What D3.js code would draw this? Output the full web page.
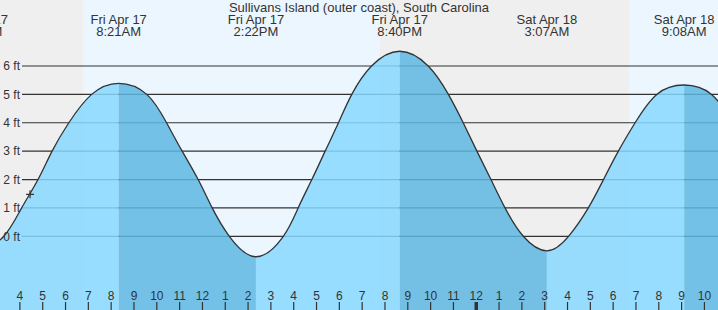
<!DOCTYPE html>
<html>
<head>
<meta charset="utf-8">
<script src="https://cdn.jsdelivr.net/npm/d3@7"></script>
<style>
  body { margin: 0; background: #fff; }
  svg { display: block; font-family: "Liberation Sans", Arial, sans-serif; }
</style>
</head>
<body>
<div id="vis"></div>
<script>
// Set up dimensions
let width = 718,
    height = 310;

let parse = d3.timeParse("%Y-%m-%d %H:%M");

// Data
const title = "Sullivans Island (outer coast), South Carolina";

// tide curve: high/low points plus where the curve crosses each ft line
const curveTimes = [
  "2020-04-17 02:16", "2020-04-17 03:19", "2020-04-17 04:06", "2020-04-17 04:49",
  "2020-04-17 05:26", "2020-04-17 06:10", "2020-04-17 07:10", "2020-04-17 08:21",
  "2020-04-17 09:35", "2020-04-17 10:27", "2020-04-17 11:08", "2020-04-17 11:50",
  "2020-04-17 12:27", "2020-04-17 13:12", "2020-04-17 14:22", "2020-04-17 15:34",
  "2020-04-17 16:13", "2020-04-17 16:49", "2020-04-17 17:24", "2020-04-17 17:59",
  "2020-04-17 18:34", "2020-04-17 19:26", "2020-04-17 20:40", "2020-04-17 21:55",
  "2020-04-17 22:48", "2020-04-17 23:27", "2020-04-18 00:03", "2020-04-18 00:40",
  "2020-04-18 01:17", "2020-04-18 02:05", "2020-04-18 03:07", "2020-04-18 04:04",
  "2020-04-18 04:56", "2020-04-18 05:36", "2020-04-18 06:15", "2020-04-18 06:59",
  "2020-04-18 07:56", "2020-04-18 09:08", "2020-04-18 10:20", "2020-04-18 11:17"
];
const curveHeights = [
  -0.6, 0, 1, 2,
  3, 4, 5, 5.39,
  5, 4, 3, 2,
  1, 0, -0.72, 0,
  1, 2, 3, 4,
  5, 6, 6.52, 6,
  5, 4, 3, 2,
  1, 0, -0.51, 0,
  1, 2, 3, 4,
  5, 5.33, 5, 4
];

// high / low tide events
const eventTimes = ["2020-04-17 02:16", "2020-04-17 08:21", "2020-04-17 14:22",
                    "2020-04-17 20:40", "2020-04-18 03:07", "2020-04-18 09:08"];
const eventHeights = [-0.6, 5.39, -0.72, 6.52, -0.51, 5.33];
const eventDays = ["Fri Apr 17", "Fri Apr 17", "Fri Apr 17", "Fri Apr 17", "Sat Apr 18", "Sat Apr 18"];
const eventClock = ["2:16AM", "8:21AM", "2:22PM", "8:40PM", "3:07AM", "9:08AM"];

// sunrise, sunset, sunrise
const sunTimes = ["2020-04-17 06:48", "2020-04-17 19:48", "2020-04-18 06:43"];

// current time marker
const nowTime = "2020-04-17 04:28";
const nowHeight = 1.48;

const yTicks = [0, 1, 2, 3, 4, 5, 6];

let curveData = curveTimes.map((t, i) => ({time: parse(t), h: curveHeights[i]}));

// Create SVG
let svg = d3.select('#vis')
            .append('svg')
            .attr('width', width)
            .attr('height', height);

// Scales
let xScale = d3.scaleTime()
    .domain([parse("2020-04-17 03:09"), parse("2020-04-18 10:37")])
    .range([0, width]);

let yScale = d3.scaleLinear()
    .domain([0, 6])
    .range([236.3, 66]);

let smooth = d3.curveNatural;

// Night background, then daylight bands
svg.append('rect')
    .attr('width', width)
    .attr('height', height)
    .attr('fill', '#efefef');

let dayBands = [
  [parse(sunTimes[0]), parse(sunTimes[1])],
  [parse(sunTimes[2]), xScale.domain()[1]]
];
svg.selectAll('.day')
    .data(dayBands)
    .enter()
    .append('rect')
    .attr('class', 'day')
    .attr('x', d => xScale(d[0]))
    .attr('y', 0)
    .attr('width', d => xScale(d[1]) - xScale(d[0]))
    .attr('height', height)
    .attr('fill', '#ecf6ff');

// Grid lines
svg.selectAll('.grid')
    .data(yTicks)
    .enter()
    .append('line')
    .attr('class', 'grid')
    .attr('x1', 22)
    .attr('x2', width)
    .attr('y1', d => yScale(d))
    .attr('y2', d => yScale(d))
    .attr('stroke', '#333')
    .attr('stroke-width', 1.2);

// Water, rising (light) and falling (dark) parts
let area = d3.area()
    .x(d => xScale(d.time))
    .y0(height)
    .y1(d => yScale(d.h))
    .curve(smooth);

let bounds = eventTimes.map(parse);
let intervals = [];
for (let i = 0; i < bounds.length; i++) {
  let end = i < bounds.length - 1 ? bounds[i + 1] : parse("2020-04-18 12:00");
  let falling = i < bounds.length - 1 ? eventHeights[i] > eventHeights[i + 1] : true;
  intervals.push({start: bounds[i], end: end, falling: falling});
}

let defs = svg.append('defs');
intervals.forEach((d, i) => {
  defs.append('clipPath')
      .attr('id', 'band' + i)
      .append('rect')
      .attr('x', xScale(d.start))
      .attr('y', 0)
      .attr('width', xScale(d.end) - xScale(d.start))
      .attr('height', height);
});

intervals.forEach((d, i) => {
  svg.append('path')
      .datum(curveData)
      .attr('d', area)
      .attr('clip-path', 'url(#band' + i + ')')
      .attr('fill', d.falling ? 'rgb(94,183,226)' : 'rgb(135,216,255)')
      .attr('fill-opacity', 0.85);
});

// Tide line
svg.append('path')
    .datum(curveData)
    .attr('d', d3.line().x(d => xScale(d.time)).y(d => yScale(d.h)).curve(smooth))
    .attr('fill', 'none')
    .attr('stroke', '#333')
    .attr('stroke-width', 1.3);

// Y labels
svg.selectAll('.ylab')
    .data(yTicks)
    .enter()
    .append('text')
    .attr('class', 'ylab')
    .attr('x', 20)
    .attr('y', d => yScale(d))
    .attr('dy', '0.36em')
    .attr('text-anchor', 'end')
    .attr('font-size', 12)
    .attr('fill', '#333')
    .text(d => d + ' ft');

// Current time marker
let nx = xScale(parse(nowTime)), ny = yScale(nowHeight);
svg.append('path')
    .attr('d', `M${nx - 4},${ny}H${nx + 4}M${nx},${ny - 4}V${ny + 4}`)
    .attr('stroke', '#333')
    .attr('stroke-width', 1.2);

// Hour axis along the bottom
let xAxis = svg.append('g')
    .attr('transform', `translate(0, ${height})`)
    .call(d3.axisTop(xScale)
      .ticks(d3.timeHour.every(1))
      .tickFormat(d3.timeFormat('%-I'))
      .tickSize(8)
      .tickPadding(2))
    .attr('font-family', null)
    .attr('font-size', 12);

xAxis.select('.domain').remove();
xAxis.selectAll('text').attr('fill', '#333');
xAxis.selectAll('line')
    .attr('stroke', '#333')
    .attr('stroke-width', d => d.getHours() === 0 ? 3.5 : 1.2);

// Title
svg.append('text')
    .attr('x', width / 2)
    .attr('y', 12)
    .attr('text-anchor', 'middle')
    .attr('font-size', 13)
    .attr('fill', '#333')
    .text(title);

// High / low labels
let ev = svg.selectAll('.event')
    .data(eventTimes)
    .enter()
    .append('g')
    .attr('class', 'event')
    .attr('transform', d => `translate(${xScale(parse(d))}, 0)`);

ev.append('text')
    .attr('y', 24)
    .attr('text-anchor', 'middle')
    .attr('font-size', 13)
    .attr('fill', '#333')
    .text((d, i) => eventDays[i]);

ev.append('text')
    .attr('y', 36)
    .attr('text-anchor', 'middle')
    .attr('font-size', 13)
    .attr('fill', '#333')
    .text((d, i) => eventClock[i]);
</script>
</body>
</html>
